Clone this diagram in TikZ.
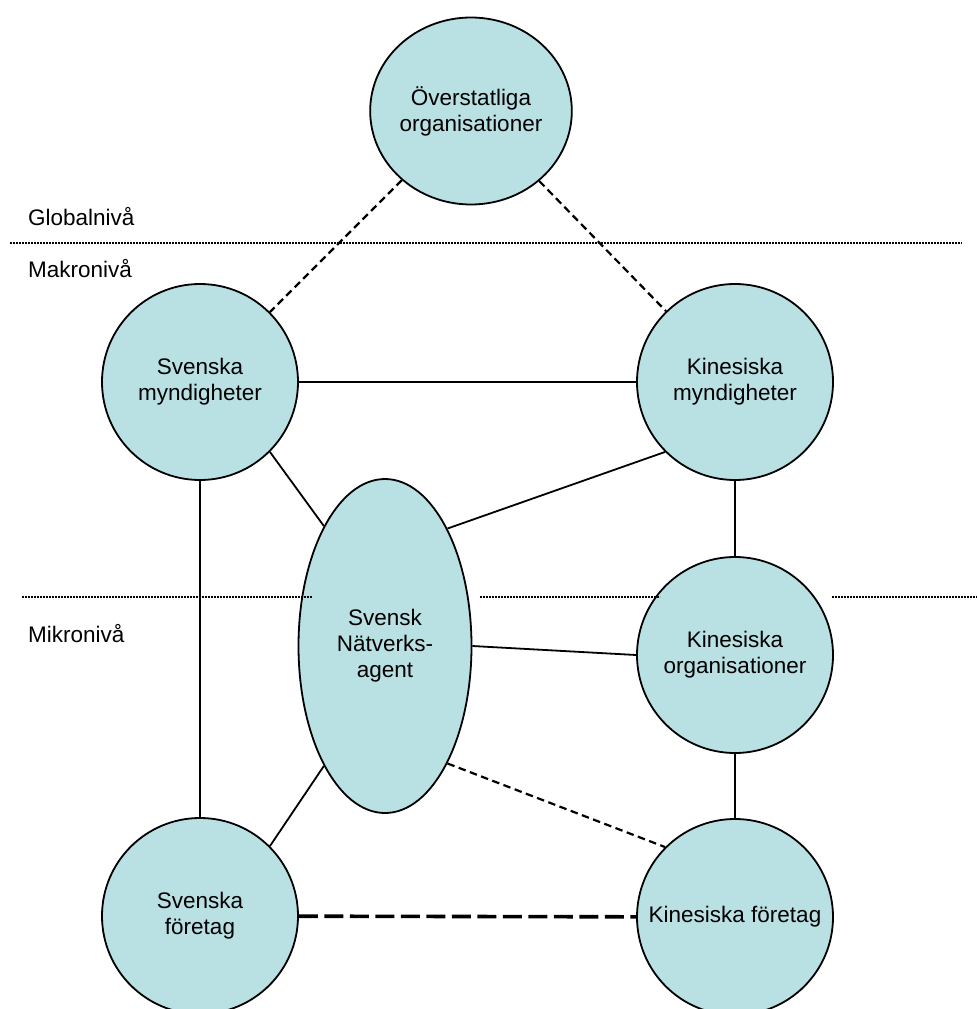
\documentclass[tikz,border=0pt]{standalone}
\usepackage{fontspec}
\setmainfont{Liberation Sans}
\usetikzlibrary{shapes.geometric}
\definecolor{nodefill}{RGB}{185,224,227}
\begin{document}
\begin{tikzpicture}[x=1pt,y=-1pt,
  txt/.style={font=\fontsize{22.5}{26}\selectfont},
  actor/.style={circle,draw=black,line width=1.8pt,fill=nodefill,minimum size=196pt,inner sep=0pt,align=center,txt},
  agentbox/.style={ellipse,draw=black,line width=1.8pt,fill=nodefill,inner sep=0pt,align=center,txt},
  conn/.style={line width=1.8pt},
  dashconn/.style={line width=2.2pt,dash pattern=on 7.5pt off 4.5pt},
  thickdash/.style={line width=3.6pt,dash pattern=on 19pt off 6.5pt},
  levelline/.style={line width=2pt,dash pattern=on 1.6pt off 1.4pt},
  levellabel/.style={anchor=base west,inner sep=0pt,txt}]
\useasboundingbox (0,0) rectangle (977,1009);

% nodes
\node[agentbox,minimum width=174pt,minimum height=187pt] (top) at (471,111) {Överstatliga\\organisationer};
\node[actor] (sm) at (200,382) {Svenska\\myndigheter};
\node[actor] (km) at (735,382) {Kinesiska\\myndigheter};
\node[agentbox,minimum width=173pt,minimum height=334pt] (ag) at (385,646) {Svensk\\Nätverks-\\agent};
\node[actor] (ko) at (735,655) {Kinesiska\\organisationer};
\node[actor] (sf) at (200,916) {Svenska\\företag};
\node[actor] (kf) at (735,917) {Kinesiska företag};

% connectors
\draw[dashconn] (top) -- (sm);
\draw[dashconn] (top) -- (km);
\draw[conn] (sm) -- (km);
\draw[conn] (sm.-45) -- (ag.117.5);
\draw[conn] (km.-135) -- (ag.62.5);
\draw[conn] (km) -- (ko);
\draw[conn] (ag.east) -- (ko.west);
\draw[dashconn] (ag.-62.5) -- (kf.135);
\draw[conn] (ko) -- (kf);
\draw[conn] (sm) -- (sf);
\draw[conn] (ag.-117.5) -- (sf.45);
\draw[thickdash] (sf) -- (kf);

% level lines
\coordinate (g1) at (10,243);
\coordinate (g2) at (962,243);
\draw[levelline] (g1) -- (g2);
\coordinate (m1) at (22,597);
\coordinate (m2) at (312,597);
\coordinate (m3) at (480,597);
\coordinate (m4) at (660,597);
\coordinate (m5) at (832,597);
\coordinate (m6) at (977,597);
\draw[levelline] (m1) -- (m2);
\draw[levelline] (m3) -- (m4);
\draw[levelline] (m5) -- (m6);

% level labels
\node[levellabel] (glob) at (28,225) {Globalnivå};
\node[levellabel] (makro) at (28,277) {Makronivå};
\node[levellabel] (mikro) at (28,642) {Mikronivå};
\end{tikzpicture}
\end{document}
